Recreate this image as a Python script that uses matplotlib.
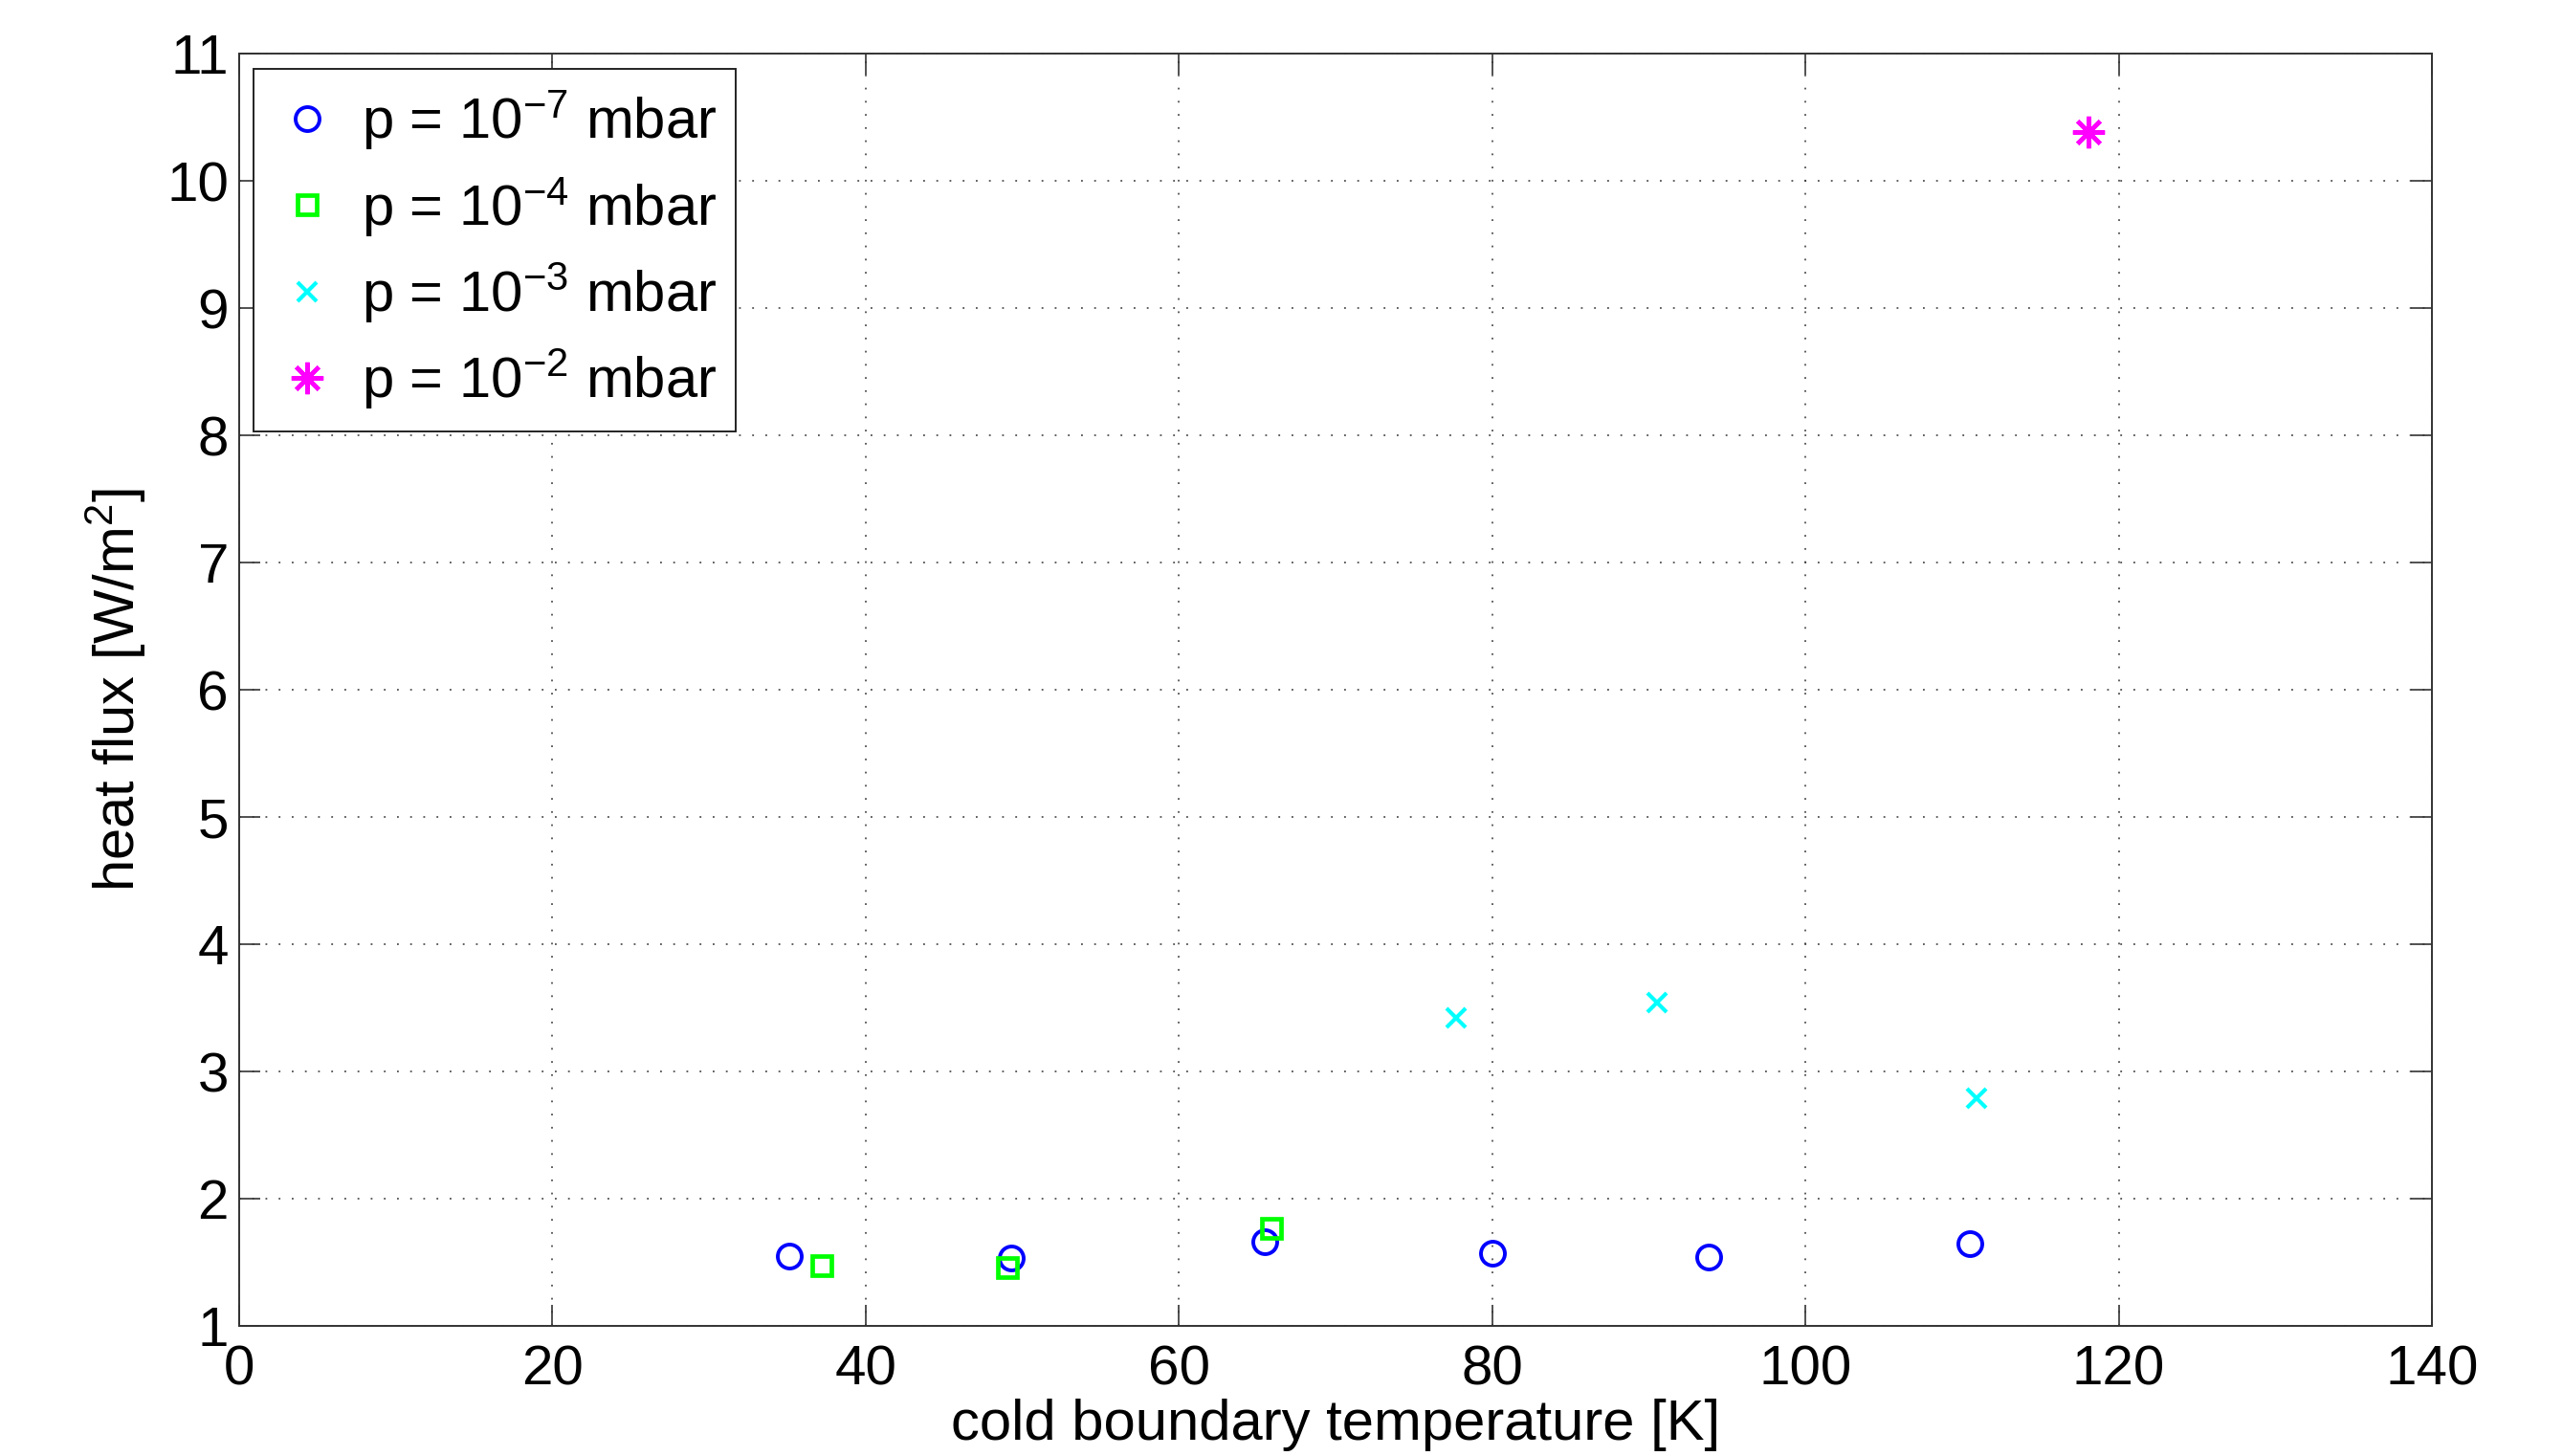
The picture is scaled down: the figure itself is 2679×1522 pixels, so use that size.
import numpy as np
import matplotlib
matplotlib.use("Agg")
import matplotlib.pyplot as plt

# data
T_p7 = [35.1, 49.3, 65.5, 80.0, 93.8, 110.5]
q_p7 = [1.55, 1.535, 1.66, 1.57, 1.54, 1.65]
T_p4 = [37.2, 49.05, 65.9]
q_p4 = [1.475, 1.455, 1.77]
T_p3 = [77.7, 90.55, 110.9]
q_p3 = [3.42, 3.545, 2.79]
T_p2 = [118.1]
q_p2 = [10.38]

xticks = np.arange(0, 141, 20)
yticks = np.arange(1, 12, 1)

plt.rcParams['font.family'] = ['Liberation Sans', 'DejaVu Sans']
plt.rcParams['mathtext.fontset'] = 'custom'
plt.rcParams['mathtext.rm'] = 'Liberation Sans'
plt.rcParams['mathtext.it'] = 'Liberation Sans'

fig = plt.figure(figsize=(26.79, 15.22), dpi=100)
ax = fig.add_axes([250/2679, 1 - 1386/1522, (2542-250)/2679, (1386-56)/1522])

ax.plot(T_p7, q_p7, 'o', ls='none', mfc='none', mec=(0, 0, 1), ms=18, mew=2.8,
        label=r'p = 10$^{-7}$ mbar')
ax.plot(T_p4, q_p4, 's', ls='none', mfc='none', mec=(0, 1, 0), ms=15, mew=3.4,
        label=r'p = 10$^{-4}$ mbar')
ax.plot(T_p3, q_p3, 'x', ls='none', color=(0, 1, 1), ms=15, mew=3,
        label=r'p = 10$^{-3}$ mbar')
ax.plot(T_p2, q_p2, marker=(8, 2, 0), ls='none', color=(1, 0, 1), ms=24, mew=3.2,
        label=r'p = 10$^{-2}$ mbar')

ax.set_xlim(0, 140)
ax.set_ylim(1, 11)
ax.set_xticks(xticks)
ax.set_yticks(yticks)
ax.tick_params(direction='in', length=16, width=1.2, labelsize=42,
               top=True, right=True, color='#333333')
ax.tick_params(axis='x', pad=14)
ax.tick_params(axis='y', pad=8)
ax.grid(True, color='#333333', linestyle=(0, (1.2, 7.8)), linewidth=1.1)
for s in ax.spines.values():
    s.set_linewidth(1.4)
    s.set_color('#333333')

ax.set_xlabel('cold boundary temperature [K]', fontsize=43, labelpad=2)
ax.set_ylabel(r'heat flux [W/m$^2$]', fontsize=43, labelpad=14)

leg = ax.legend(loc='upper left', bbox_to_anchor=(0.0065, 0.988), borderaxespad=0,
                fontsize=43, frameon=True, fancybox=False, framealpha=1,
                edgecolor='#222222', handlelength=1.2, handletextpad=0.35,
                labelspacing=0.39, borderpad=0.34)
leg.get_frame().set_linewidth(1.4)

fig.savefig('out.png', dpi=100)
